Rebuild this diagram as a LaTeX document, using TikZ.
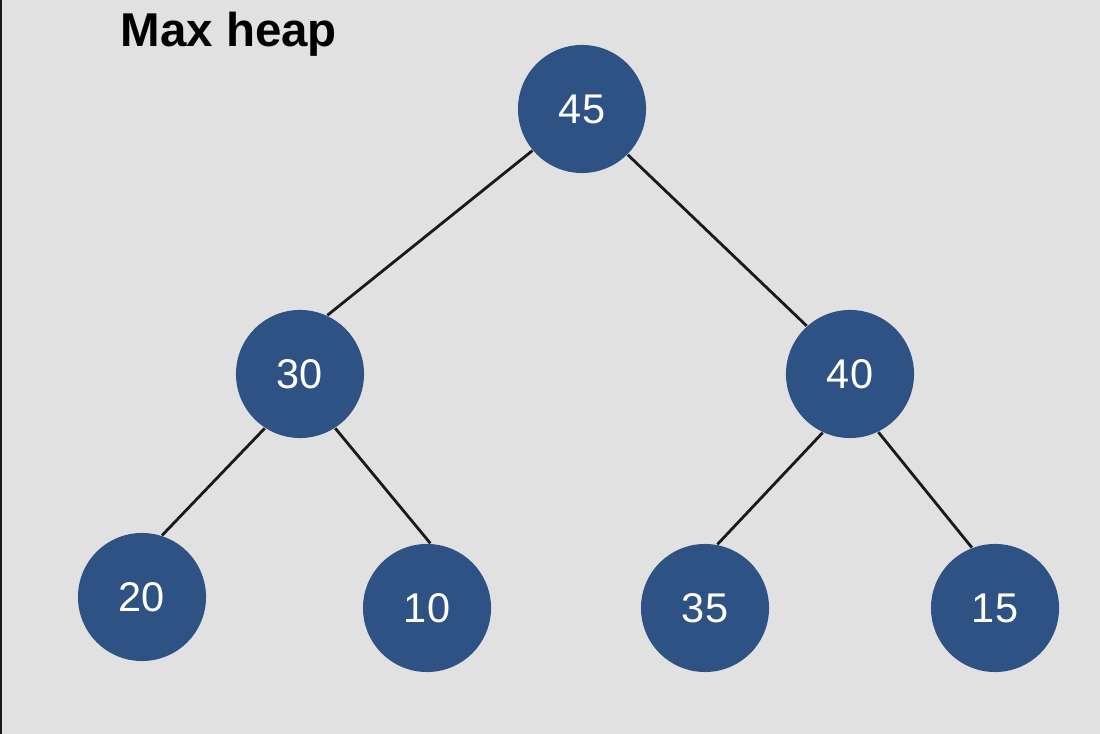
\documentclass[tikz,border=0pt]{standalone}
\usepackage{fontspec}
\setmainfont{Liberation Sans}
\definecolor{bgc}{HTML}{E1E1E1}
\definecolor{nodec}{HTML}{2E5283}
\definecolor{edgec}{HTML}{1A1A1A}
\begin{document}
\begin{tikzpicture}[x=0.01cm,y=-0.01cm,
  heapnode/.style={circle,fill=nodec,minimum size=1.28cm,inner sep=0pt,text=white,font=\fontsize{11.8}{13}\selectfont},
  edge/.style={draw=edgec,line width=0.8pt},
  titletext/.style={font=\fontsize{13.5}{15}\selectfont\bfseries,anchor=base west,inner sep=0pt}]
\fill[bgc] (0,0) rectangle (1100,734);
\fill[edgec] (0,0) rectangle (2,734);
\useasboundingbox (0,0) rectangle (1100,734);
\node[titletext] (title) at (120,47) {Max heap};
\node[heapnode] (n45) at (582,109) {45};
\node[heapnode] (n30) at (300,374) {30};
\node[heapnode] (n40) at (850,374) {40};
\node[heapnode] (n20) at (142,597) {20};
\node[heapnode] (n10) at (427,608) {10};
\node[heapnode] (n35) at (705,608) {35};
\node[heapnode] (n15) at (995,608) {15};
\draw[edge] (n45.220) -- (n30.65);
\draw[edge] (n45.-45) -- (n40.132);
\draw[edge] (n30.237) -- (n20.72);
\draw[edge] (n30.-57) -- (n10.87);
\draw[edge] (n40.245) -- (n35.79);
\draw[edge] (n40.-64) -- (n15.111);
\end{tikzpicture}
\end{document}
